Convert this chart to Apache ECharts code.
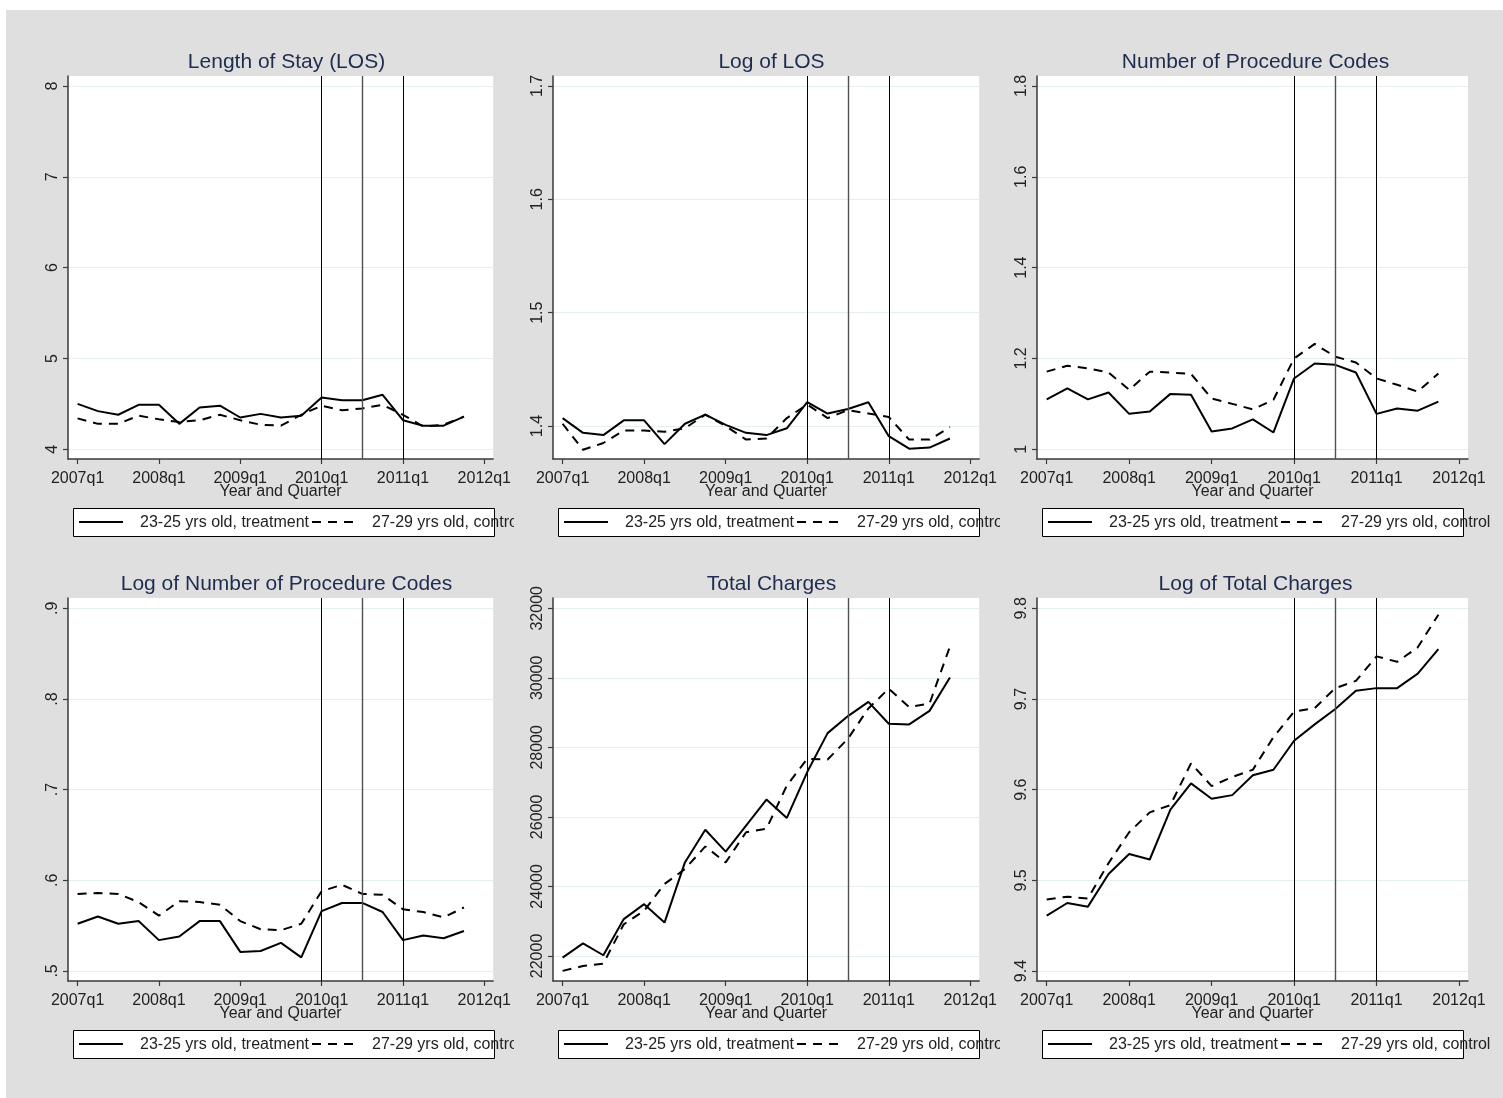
<!DOCTYPE html>
<html>
<head>
<meta charset="utf-8">
<title>Hospital outcomes by quarter</title>
<script src="https://cdn.jsdelivr.net/npm/echarts@6/dist/echarts.min.js"></script>
<style>
  html, body { margin: 0; padding: 0; background: #ffffff; width: 1503px; height: 1098px; overflow: hidden; }
  #bg { position: absolute; left: 6px; top: 10px; right: 0; bottom: 0; background: #dfdfdf; }
  .panel { position: absolute; }
</style>
</head>
<body>
<div id="bg"></div>
<div id="p0" class="panel"></div>
<div id="p1" class="panel"></div>
<div id="p2" class="panel"></div>
<div id="p3" class="panel"></div>
<div id="p4" class="panel"></div>
<div id="p5" class="panel"></div>
<script>
// ---- data ----
const quarters = ['2007q1','2007q2','2007q3','2007q4','2008q1','2008q2','2008q3','2008q4',
                  '2009q1','2009q2','2009q3','2009q4','2010q1','2010q2','2010q3','2010q4',
                  '2011q1','2011q2','2011q3','2011q4'];
const xTickLabels = ['2007q1','2008q1','2009q1','2010q1','2011q1','2012q1'];
const policyQuarters = ['2010q1','2010q3','2011q1'];
const seriesNames = ['23-25 yrs old, treatment', '27-29 yrs old, control'];
const xAxisTitle = 'Year and Quarter';

const panelTitles = ['Length of Stay (LOS)', 'Log of LOS', 'Number of Procedure Codes',
                     'Log of Number of Procedure Codes', 'Total Charges', 'Log of Total Charges'];

const losTreat   = [4.50, 4.42, 4.38, 4.49, 4.49, 4.28, 4.46, 4.48, 4.35, 4.39, 4.35, 4.37, 4.57, 4.54, 4.54, 4.60, 4.32, 4.26, 4.26, 4.36];
const losControl = [4.34, 4.28, 4.28, 4.37, 4.33, 4.30, 4.32, 4.38, 4.32, 4.27, 4.26, 4.38, 4.48, 4.43, 4.45, 4.49, 4.38, 4.25, 4.27, 4.36];

const logLosTreat   = [1.407, 1.394, 1.392, 1.405, 1.405, 1.384, 1.402, 1.410, 1.401, 1.394, 1.392, 1.398, 1.421, 1.411, 1.415, 1.421, 1.391, 1.380, 1.381, 1.389];
const logLosControl = [1.402, 1.379, 1.385, 1.396, 1.396, 1.395, 1.398, 1.410, 1.400, 1.388, 1.389, 1.407, 1.419, 1.407, 1.414, 1.411, 1.408, 1.388, 1.388, 1.399];

const procTreat   = [1.110, 1.134, 1.110, 1.125, 1.078, 1.083, 1.122, 1.120, 1.039, 1.046, 1.066, 1.037, 1.156, 1.189, 1.186, 1.169, 1.078, 1.090, 1.085, 1.105];
const procControl = [1.171, 1.184, 1.178, 1.169, 1.131, 1.171, 1.169, 1.166, 1.112, 1.100, 1.088, 1.109, 1.200, 1.232, 1.204, 1.191, 1.156, 1.142, 1.127, 1.167];

const logProcTreat   = [0.552, 0.560, 0.552, 0.555, 0.534, 0.538, 0.555, 0.555, 0.521, 0.522, 0.531, 0.515, 0.566, 0.575, 0.575, 0.565, 0.534, 0.539, 0.536, 0.544];
const logProcControl = [0.585, 0.586, 0.585, 0.576, 0.561, 0.577, 0.576, 0.573, 0.555, 0.546, 0.545, 0.552, 0.588, 0.595, 0.585, 0.584, 0.568, 0.565, 0.559, 0.570];

const chargesTreat   = [21950, 22360, 22020, 23060, 23490, 22960, 24690, 25630, 25000, 25750, 26500, 25970, 27290, 28410, 28900, 29310, 28680, 28660, 29050, 30010];
const chargesControl = [21570, 21710, 21780, 22910, 23300, 24070, 24500, 25150, 24690, 25560, 25660, 26900, 27670, 27650, 28250, 29120, 29690, 29160, 29260, 30900];

const logChargesTreat   = [9.461, 9.475, 9.471, 9.507, 9.529, 9.523, 9.578, 9.607, 9.590, 9.594, 9.616, 9.622, 9.654, 9.672, 9.689, 9.709, 9.712, 9.712, 9.728, 9.755];
const logChargesControl = [9.479, 9.482, 9.480, 9.519, 9.553, 9.575, 9.583, 9.629, 9.604, 9.614, 9.622, 9.658, 9.686, 9.690, 9.712, 9.720, 9.747, 9.741, 9.757, 9.793];

const losTicks = [4, 5, 6, 7, 8];
const losTickLabels = ['4', '5', '6', '7', '8'];
const logLosTicks = [1.4, 1.5, 1.6, 1.7];
const logLosTickLabels = ['1.4', '1.5', '1.6', '1.7'];
const procTicks = [1, 1.2, 1.4, 1.6, 1.8];
const procTickLabels = ['1', '1.2', '1.4', '1.6', '1.8'];
const logProcTicks = [0.5, 0.6, 0.7, 0.8, 0.9];
const logProcTickLabels = ['.5', '.6', '.7', '.8', '.9'];
const chargesTicks = [22000, 24000, 26000, 28000, 30000, 32000];
const chargesTickLabels = ['22000', '24000', '26000', '28000', '30000', '32000'];
const logChargesTicks = [9.4, 9.5, 9.6, 9.7, 9.8];
const logChargesTickLabels = ['9.4', '9.5', '9.6', '9.7', '9.8'];

// ---- panel setup ----
const panels = [
  { title: panelTitles[0], treat: losTreat,        control: losControl,        ticks: losTicks,        labels: losTickLabels,        yMin: 3.893, yMax: 8.110 },
  { title: panelTitles[1], treat: logLosTreat,     control: logLosControl,     ticks: logLosTicks,     labels: logLosTickLabels,     yMin: 1.3709, yMax: 1.7088 },
  { title: panelTitles[2], treat: procTreat,       control: procControl,       ticks: procTicks,       labels: procTickLabels,       yMin: 0.9786, yMax: 1.822 },
  { title: panelTitles[3], treat: logProcTreat,    control: logProcControl,    ticks: logProcTicks,    labels: logProcTickLabels,    yMin: 0.4889, yMax: 0.9114 },
  { title: panelTitles[4], treat: chargesTreat,    control: chargesControl,    ticks: chargesTicks,    labels: chargesTickLabels,    yMin: 21279, yMax: 32297 },
  { title: panelTitles[5], treat: logChargesTreat, control: logChargesControl, ticks: logChargesTicks, labels: logChargesTickLabels, yMin: 9.389, yMax: 9.8114 }
];

const FONT = "'Liberation Sans', Arial, Helvetica, sans-serif";
const colLeft = [29, 514, 1000];
const colWidth = [485, 486, 503];
const rowTop = [10, 532];
const rowHeight = [540, 566];
const gridLeft = [39, 39, 37];
const gridTop = 66;
const gridW = 431;
const gridH = 383;
const DASH = [9, 7];

const xTickValues = xTickLabels.map((_, k) => k * 4);
const policyIdx = policyQuarters.map(q => quarters.indexOf(q));

// key box below each plot: solid and dashed samples with their labels
function keyGraphics(boxX, boxY) {
  const cy = boxY + 14;
  return [
    {
      type: 'rect', z: 0,
      shape: { x: boxX + 0.5, y: boxY + 0.5, width: 421, height: 28 },
      style: { fill: '#ffffff', stroke: '#000000', lineWidth: 1 }
    },
    {
      type: 'line', z: 1,
      shape: { x1: boxX + 6, y1: cy, x2: boxX + 50, y2: cy },
      style: { stroke: '#000', lineWidth: 2 }
    },
    {
      type: 'text', z: 1,
      style: { text: seriesNames[0], x: boxX + 67, y: cy + 1, verticalAlign: 'middle',
               fill: '#222', font: '16px ' + FONT }
    },
    {
      type: 'line', z: 1,
      shape: { x1: boxX + 239, y1: cy, x2: boxX + 282, y2: cy },
      style: { stroke: '#000', lineWidth: 2, lineDash: DASH }
    },
    {
      type: 'text', z: 1,
      style: { text: seriesNames[1], x: boxX + 299, y: cy + 1, verticalAlign: 'middle',
               fill: '#222', font: '16px ' + FONT }
    }
  ];
}

panels.forEach((p, n) => {
  const col = n % 3, row = Math.floor(n / 3);
  const el = document.getElementById('p' + n);
  el.style.left = colLeft[col] + 'px';
  el.style.top = rowTop[row] + 'px';
  el.style.width = colWidth[col] + 'px';
  el.style.height = rowHeight[row] + 'px';
  const chart = echarts.init(el, null, { renderer: 'canvas' });

  const gl = gridLeft[col];
  const boxX = gl + 5;
  const boxY = gridTop + gridH + 49;

  chart.setOption({
    animation: false,
    textStyle: { fontFamily: FONT },
    grid: {
      left: gl, top: gridTop, width: gridW, height: gridH,
      show: true, backgroundColor: '#ffffff', borderWidth: 0
    },
    xAxis: {
      type: 'value',
      min: -0.471, max: 20.437,
      name: xAxisTitle,
      nameLocation: 'middle',
      nameGap: 25,
      nameMoveOverlap: false,
      nameTextStyle: { fontSize: 16, color: '#222', fontFamily: FONT },
      axisLine: { show: true, onZero: false, lineStyle: { color: '#3a3a3a', width: 1.5 } },
      axisTick: { show: true, length: 5, customValues: xTickValues, lineStyle: { color: '#3a3a3a', width: 1.2 } },
      axisLabel: {
        customValues: xTickValues, fontSize: 16, color: '#222', margin: 12, fontFamily: FONT,
        formatter: v => xTickLabels[Math.round(v / 4)]
      },
      splitLine: { show: false }
    },
    yAxis: {
      type: 'value',
      min: p.yMin, max: p.yMax,
      axisLine: { show: true, onZero: false, lineStyle: { color: '#3a3a3a', width: 1.5 } },
      axisTick: { show: true, length: 5, customValues: p.ticks, lineStyle: { color: '#3a3a3a', width: 1.2 } },
      axisLabel: {
        customValues: p.ticks, rotate: 90, fontSize: 16, color: '#222', margin: 7, fontFamily: FONT,
        formatter: v => {
          const k = p.ticks.findIndex(t => Math.abs(t - v) < 1e-9 * Math.max(1, Math.abs(t)));
          return k >= 0 ? p.labels[k] : '';
        }
      },
      splitLine: { show: true, lineStyle: { color: '#e4eef0', width: 1 } }
    },
    graphic: [
      {
        type: 'text', z: 10,
        style: {
          text: p.title, x: gl + gridW / 2 + 3, y: 52,
          align: 'center', verticalAlign: 'middle',
          fill: '#1e2c50', font: '21px ' + FONT
        }
      }
    ].concat(keyGraphics(boxX, boxY)),
    series: [
      {
        type: 'line', name: seriesNames[0],
        data: p.treat.map((v, i) => [i, v]),
        symbol: 'none', z: 3,
        lineStyle: { color: '#000', width: 2 },
        itemStyle: { color: '#000' },
        markLine: {
          silent: true,
          symbol: ['none', 'none'],
          label: { show: false },
          lineStyle: { color: '#000', width: 1, type: 'solid' },
          data: policyIdx.map((i, k) => ({
            xAxis: i,
            lineStyle: { color: k === 1 ? '#505050' : '#000', width: k === 1 ? 1.4 : 1, type: 'solid' }
          }))
        }
      },
      {
        type: 'line', name: seriesNames[1],
        data: p.control.map((v, i) => [i, v]),
        symbol: 'none', z: 3,
        lineStyle: { color: '#000', width: 2, type: DASH },
        itemStyle: { color: '#000' }
      }
    ]
  });
});
</script>
</body>
</html>
